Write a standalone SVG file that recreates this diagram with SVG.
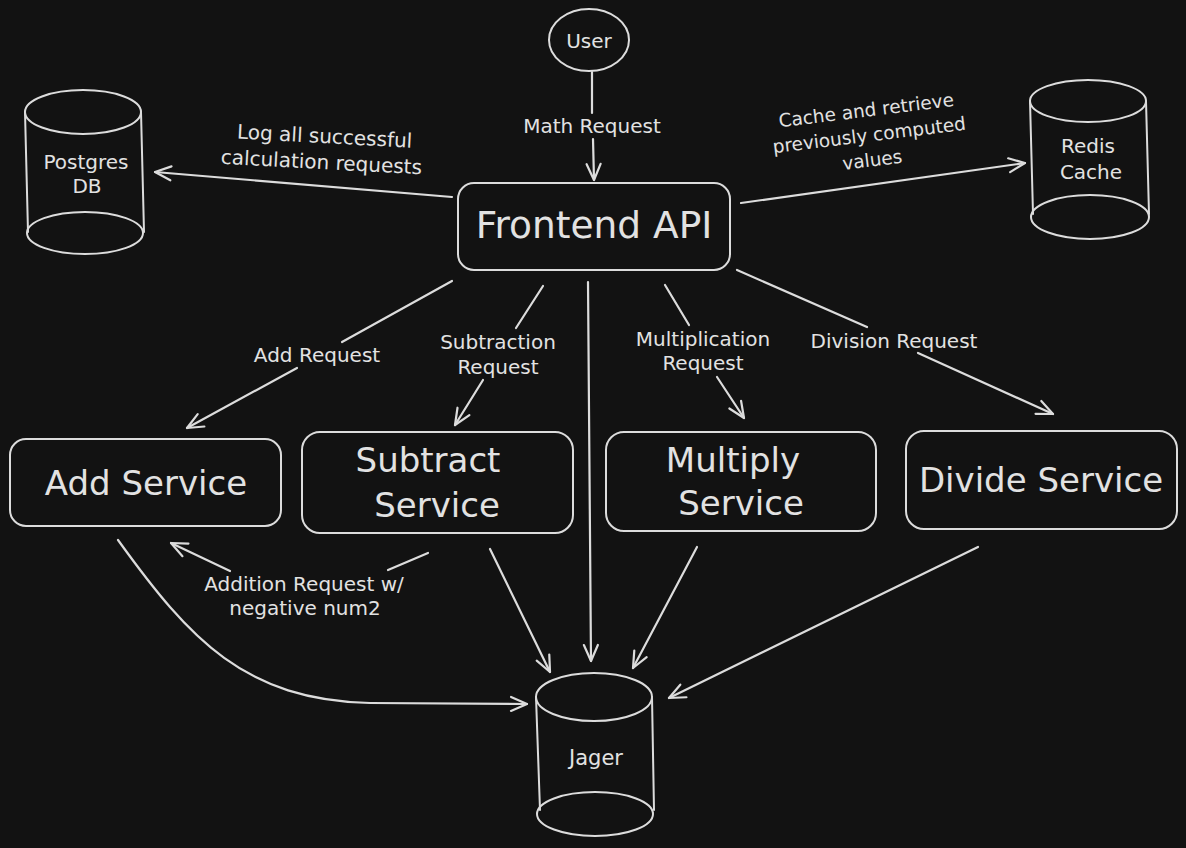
<svg xmlns="http://www.w3.org/2000/svg" width="1186" height="848" viewBox="0 0 1186 848">
<defs>
<style>
.bg{fill:#121212}
.shape{fill:none;stroke:#dcdcdc;stroke-width:2;stroke-linecap:round;stroke-linejoin:round}
.edge{fill:none;stroke:#dcdcdc;stroke-width:2.2;stroke-linecap:round;stroke-linejoin:round}
text{font-family:"DejaVu Sans","Liberation Sans",sans-serif;fill:#e2e2e2;text-anchor:middle;dominant-baseline:central}
.big{font-size:34px}
.huge{font-size:37.5px}
.lbl{font-size:20px}
.lbl2{font-size:18.5px}
.nd{font-size:20px}
</style>
<marker id="ah" viewBox="-18 -10 20 20" refX="0" refY="0" markerWidth="20" markerHeight="20" markerUnits="userSpaceOnUse" orient="auto">
<path d="M-16,-7 L0,0 L-16,7" fill="none" stroke="#dcdcdc" stroke-width="2.2" stroke-linecap="round" stroke-linejoin="round"/>
</marker>
</defs>
<rect class="bg" x="0" y="0" width="1186" height="848"/>

<g id="connectors">
<path class="edge" d="M592,72 L592,113"/>
<path class="edge" d="M593,139 L594,180" marker-end="url(#ah)"/>
<path class="edge" d="M452,197 L155,172" marker-end="url(#ah)"/>
<path class="edge" d="M741,203 L1025,163" marker-end="url(#ah)"/>
<path class="edge" d="M452,281 L342,342"/>
<path class="edge" d="M297,368 L187,428" marker-end="url(#ah)"/>
<path class="edge" d="M543,286 L516,328"/>
<path class="edge" d="M483,380 L455,425" marker-end="url(#ah)"/>
<path class="edge" d="M588,282 L591,661" marker-end="url(#ah)"/>
<path class="edge" d="M665,285 L689,325"/>
<path class="edge" d="M717,377 L744,418" marker-end="url(#ah)"/>
<path class="edge" d="M737,270 L867,327"/>
<path class="edge" d="M918,353 L1053,414" marker-end="url(#ah)"/>
<path class="edge" d="M428,553 L388,570"/>
<path class="edge" d="M230,571 L171,543" marker-end="url(#ah)"/>
<path class="edge" d="M118,540 C190,640 245,700 370,703 L527,704" marker-end="url(#ah)"/>
<path class="edge" d="M490,549 L550,672" marker-end="url(#ah)"/>
<path class="edge" d="M697,547 L633,668" marker-end="url(#ah)"/>
<path class="edge" d="M978,547 L669,698" marker-end="url(#ah)"/>

<text class="lbl" x="592" y="126">Math Request</text>
<g transform="rotate(3 322 150)">
<text class="lbl" x="324" y="136">Log all successful</text>
<text class="lbl" x="322" y="162">calculation requests</text>
</g>
<g transform="rotate(-7 869 133)">
<text class="lbl2" x="869" y="110">Cache and retrieve</text>
<text class="lbl2" x="869" y="135">previously computed</text>
<text class="lbl2" x="869" y="160">values</text>
</g>
<text class="lbl" x="317" y="355">Add Request</text>
<text class="lbl" x="498" y="342">Subtraction</text>
<text class="lbl" x="498" y="367">Request</text>
<text class="lbl" x="703" y="339">Multiplication</text>
<text class="lbl" x="703" y="363">Request</text>
<text class="lbl" x="894" y="341">Division Request</text>
<text class="lbl" x="304" y="584">Addition Request w/</text>
<text class="lbl" x="305" y="608">negative num2</text>
</g>

<g id="user">
<ellipse class="shape" cx="589" cy="40" rx="40" ry="31"/>
<text class="nd" x="589" y="41">User</text>
</g>

<g id="frontend">
<rect class="shape" x="458" y="183" width="272" height="87" rx="16"/>
<text class="huge" x="594" y="225">Frontend API</text>
</g>

<g id="postgres">
<ellipse class="shape" cx="83" cy="112" rx="58" ry="22"/>
<path class="shape" d="M25,112 L28,232 M141,112 L144,232"/>
<ellipse class="shape" cx="85" cy="233" rx="58" ry="21"/>
<text class="nd" x="86" y="162">Postgres</text>
<text class="nd" x="87" y="186">DB</text>
</g>

<g id="redis">
<ellipse class="shape" cx="1088" cy="101" rx="58" ry="21"/>
<path class="shape" d="M1030,101 L1033,214 M1146,101 L1149,214"/>
<ellipse class="shape" cx="1090" cy="217" rx="59" ry="22"/>
<text class="nd" x="1088" y="146">Redis</text>
<text class="nd" x="1091" y="172">Cache</text>
</g>

<g id="add">
<rect class="shape" x="10" y="439" width="271" height="87" rx="16"/>
<text class="big" x="146" y="483">Add Service</text>
</g>

<g id="subtract">
<rect class="shape" x="302" y="432" width="271" height="101" rx="18"/>
<text class="big" x="428" y="460">Subtract</text>
<text class="big" x="437" y="505">Service</text>
</g>

<g id="multiply">
<rect class="shape" x="606" y="432" width="270" height="99" rx="18"/>
<text class="big" x="733" y="460">Multiply</text>
<text class="big" x="741" y="503">Service</text>
</g>

<g id="divide">
<rect class="shape" x="906" y="431" width="271" height="98" rx="18"/>
<text class="big" x="1041" y="480">Divide Service</text>
</g>

<g id="jager">
<ellipse class="shape" cx="594" cy="697" rx="58" ry="24"/>
<path class="shape" d="M536,697 L540,810 M652,697 L654,810"/>
<ellipse class="shape" cx="595" cy="814" rx="58" ry="22"/>
<text class="nd" x="596" y="758" style="font-size:21px">Jager</text>
</g>
</svg>
